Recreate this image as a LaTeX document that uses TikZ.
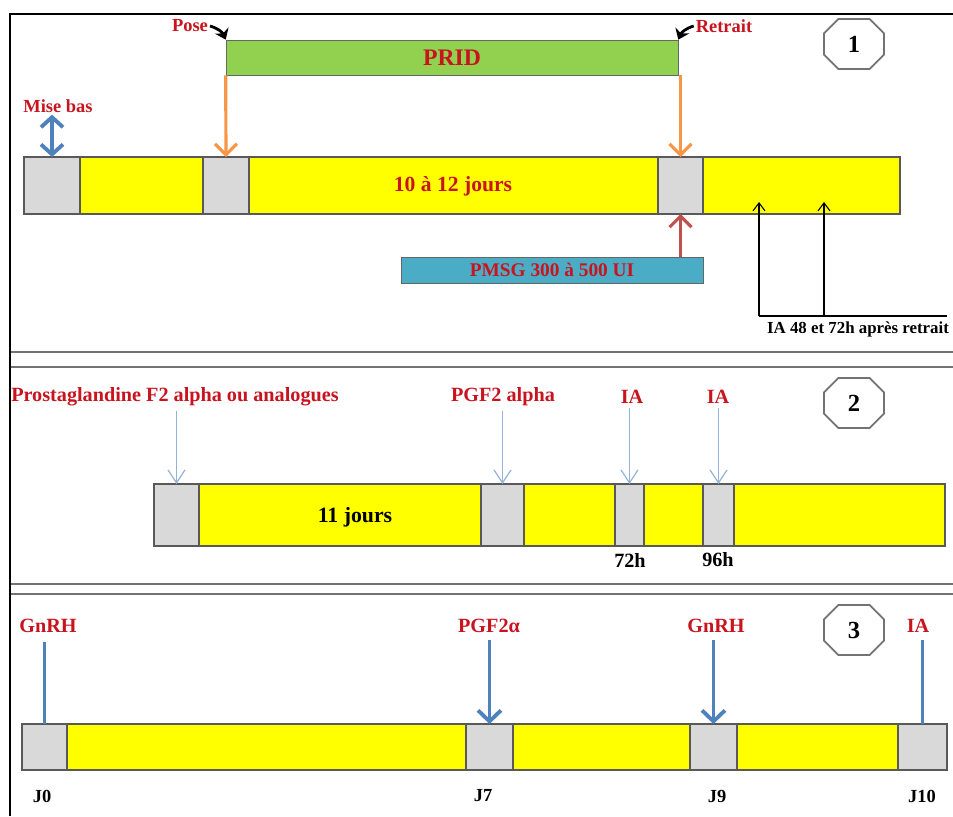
\documentclass[tikz,border=0pt]{standalone}
\usepackage{fontspec}
\setmainfont{Liberation Serif}
\usetikzlibrary{arrows.meta,shapes.misc}

\definecolor{redtxt}{RGB}{200,20,30}
\definecolor{segyel}{RGB}{255,255,0}
\definecolor{seggray}{RGB}{217,217,217}
\definecolor{pridgreen}{RGB}{146,208,80}
\definecolor{pmsgblue}{RGB}{75,172,198}
\definecolor{arrorange}{RGB}{247,150,70}
\definecolor{arrblue}{RGB}{79,129,189}
\definecolor{arrlight}{RGB}{149,179,215}
\definecolor{arrred}{RGB}{192,80,77}

\tikzset{
  seg/.style={draw=black!65, line width=0.6pt, inner sep=0pt, outer sep=0pt},
  grayseg/.style={seg, fill=seggray},
  yelseg/.style={seg, fill=segyel},
  redlbl/.style={font=\bfseries\fontsize{11.5}{13}\selectfont, text=redtxt, inner sep=1pt},
  smalllbl/.style={font=\bfseries\fontsize{10.5}{12}\selectfont, text=redtxt, inner sep=1pt},
  blklbl/.style={font=\bfseries\fontsize{10.5}{12}\selectfont, inner sep=1pt},
  octo/.style={chamfered rectangle, chamfered rectangle sep=0.25cm, draw=black!55, line width=1pt,
    minimum width=1.2cm, minimum height=1cm, inner sep=0pt, font=\bfseries\fontsize{14}{16}\selectfont},
  sepline/.style={draw=black!55, line width=1.4pt},
  thickarr/.style={line width=1.8pt, -{Straight Barb[length=2.2mm,width=4.4mm]}},
  thinarr/.style={line width=0.7pt, -{Straight Barb[length=2.6mm,width=3.4mm]}},
}

\begin{document}
\begin{tikzpicture}[x=0.02cm, y=-0.02cm]
    \useasboundingbox (0,0) rectangle (953,816);

    % frame and separators
    \draw[line width=1.2pt] (10,816) -- (10,14) -- (953,14);
    \draw[sepline] (11,352) -- (953,352);
    \draw[sepline] (11,367) -- (953,367);
    \draw[sepline] (11,584) -- (953,584);
    \draw[sepline] (11,594) -- (953,594);

    % ---- protocol 1 ----
    \node[octo] (n1) at (854,44) {1};
    \node[draw=black!60, fill=pridgreen, minimum width=9.04cm, minimum height=0.7cm,
        inner sep=0pt, font=\bfseries\fontsize{13.5}{15}\selectfont, text=redtxt] (prid) at (452,57.5) {PRID};
    \foreach \xa/\xb/\st [count=\i] in {24/80/grayseg,80/203/yelseg,203/249/grayseg,
        249/658/yelseg,658/703/grayseg,703/900/yelseg}
        \node[\st, minimum width={(\xb-\xa)*0.02cm}, minimum height=1.14cm] (b1-\i) at ({(\xa+\xb)/2},185.5) {};
    \node[font=\bfseries\fontsize{12.3}{14}\selectfont, text=redtxt] (days1) at (453,186) {10 à 12 jours};
    \node[draw=black!60, fill=pmsgblue, minimum width=6.04cm, minimum height=0.52cm,
        inner sep=0pt, font=\bfseries\fontsize{11}{13}\selectfont, text=redtxt] (pmsg) at (552,270) {PMSG 300 à 500 UI};

    \node[smalllbl] (pose) at (190,26) {Pose};
    \node[smalllbl] (retrait) at (724,26) {Retrait};
    \node[smalllbl] (misebas) at (58,106) {Mise bas};
    \draw[line width=1.6pt, -{Stealth[length=2mm,width=3mm]}] (pose.east) to[bend left=25] (prid.north west);
    \draw[line width=1.6pt, -{Stealth[length=2mm,width=3mm]}] (retrait.west) to[bend right=25] (prid.north east);
    \draw[arrblue, line width=2.2pt, {Straight Barb[length=2mm,width=4.4mm]}-{Straight Barb[length=2mm,width=4.4mm]}]
        (b1-1.north |- misebas.south) -- (b1-1.north);
    \draw[arrorange, thickarr] (prid.south west) -- (b1-3.north);
    \draw[arrorange, thickarr] (b1-5.north |- prid.south) -- (b1-5.north);
    \draw[arrred, thickarr] (b1-5.south |- pmsg.north) -- (b1-5.south);

    \node[font=\bfseries\fontsize{9.6}{11}\selectfont, inner sep=1pt] (ia48) at (858,329) {IA 48 et 72h après retrait};
    \coordinate (brk) at (947,316);
    \coordinate (q1) at (759,202);
    \coordinate (q2) at (824,202);
    \draw[line width=0.6pt] (brk) -- (q1 |- brk);
    \draw[line width=0.6pt, -{Straight Barb[length=1.6mm,width=2.4mm]}] (q1 |- brk) -- (q1);
    \draw[line width=0.6pt, -{Straight Barb[length=1.6mm,width=2.4mm]}] (q2 |- brk) -- (q2);

    % ---- protocol 2 ----
    \node[octo] (n2) at (854,403) {2};
    \foreach \xa/\xb/\st [count=\i] in {154/199/grayseg,199/481/yelseg,481/524/grayseg,
        524/615/yelseg,615/644/grayseg,644/703/yelseg,703/734/grayseg,734/945/yelseg}
        \node[\st, minimum width={(\xb-\xa)*0.02cm}, minimum height=1.24cm] (b2-\i) at ({(\xa+\xb)/2},515) {};
    \node[font=\bfseries\fontsize{12.4}{14}\selectfont] (days2) at (355,517) {11 jours};

    \node[redlbl] (prost) at (175,397) {Prostaglandine F2 alpha ou analogues};
    \node[redlbl] (pgf2) at (503,397) {PGF2 alpha};
    \node[redlbl] (ia2a) at (632,397) {IA};
    \node[redlbl] (ia2b) at (718,397) {IA};
    \draw[arrlight, thinarr, shorten <=0.5mm] (b2-1.north |- prost.south) -- (b2-1.north);
    \draw[arrlight, thinarr, shorten <=0.5mm] (b2-3.north |- pgf2.south) -- (b2-3.north);
    \draw[arrlight, thinarr, shorten <=0.5mm] (b2-5.north |- ia2a.south) -- (b2-5.north);
    \draw[arrlight, thinarr, shorten <=0.5mm] (b2-7.north |- ia2b.south) -- (b2-7.north);
    \node[blklbl, font=\bfseries\fontsize{11.5}{13}\selectfont] (h72) at (630,560) {72h};
    \node[blklbl, font=\bfseries\fontsize{11.5}{13}\selectfont] (h96) at (718,560) {96h};

    % ---- protocol 3 ----
    \node[octo] (n3) at (854,630) {3};
    \foreach \xa/\xb/\st [count=\i] in {22/67/grayseg,67/466/yelseg,466/513/grayseg,
        513/690/yelseg,690/737/grayseg,737/898/yelseg,898/947/grayseg}
        \node[\st, minimum width={(\xb-\xa)*0.02cm}, minimum height=0.92cm] (b3-\i) at ({(\xa+\xb)/2},747) {};

    \node[redlbl] (gnrh1) at (48,626) {GnRH};
    \node[redlbl] (pgf3) at (489,626) {PGF2α};
    \node[redlbl] (gnrh2) at (716,626) {GnRH};
    \node[redlbl] (ia3) at (918,626) {IA};
    \draw[arrblue, line width=2.2pt, shorten <=1.5mm] (b3-1.north |- gnrh1.south) -- (b3-1.north);
    \draw[arrblue, line width=2.2pt, shorten <=1mm, -{Straight Barb[length=2.2mm,width=4.6mm]}]
        (b3-3.north |- pgf3.south) -- (b3-3.north);
    \draw[arrblue, line width=2.2pt, shorten <=1mm, -{Straight Barb[length=2.2mm,width=4.6mm]}]
        (b3-5.north |- gnrh2.south) -- (b3-5.north);
    \draw[arrblue, line width=2.2pt, shorten <=1mm] (b3-7.north |- ia3.south) -- (b3-7.north);

    \node[blklbl] (j0) at (42,796) {J0};
    \node[blklbl] (j7) at (483,796) {J7};
    \node[blklbl] (j9) at (717,796) {J9};
    \node[blklbl] (j10) at (922,796) {J10};
\end{tikzpicture}
\end{document}
